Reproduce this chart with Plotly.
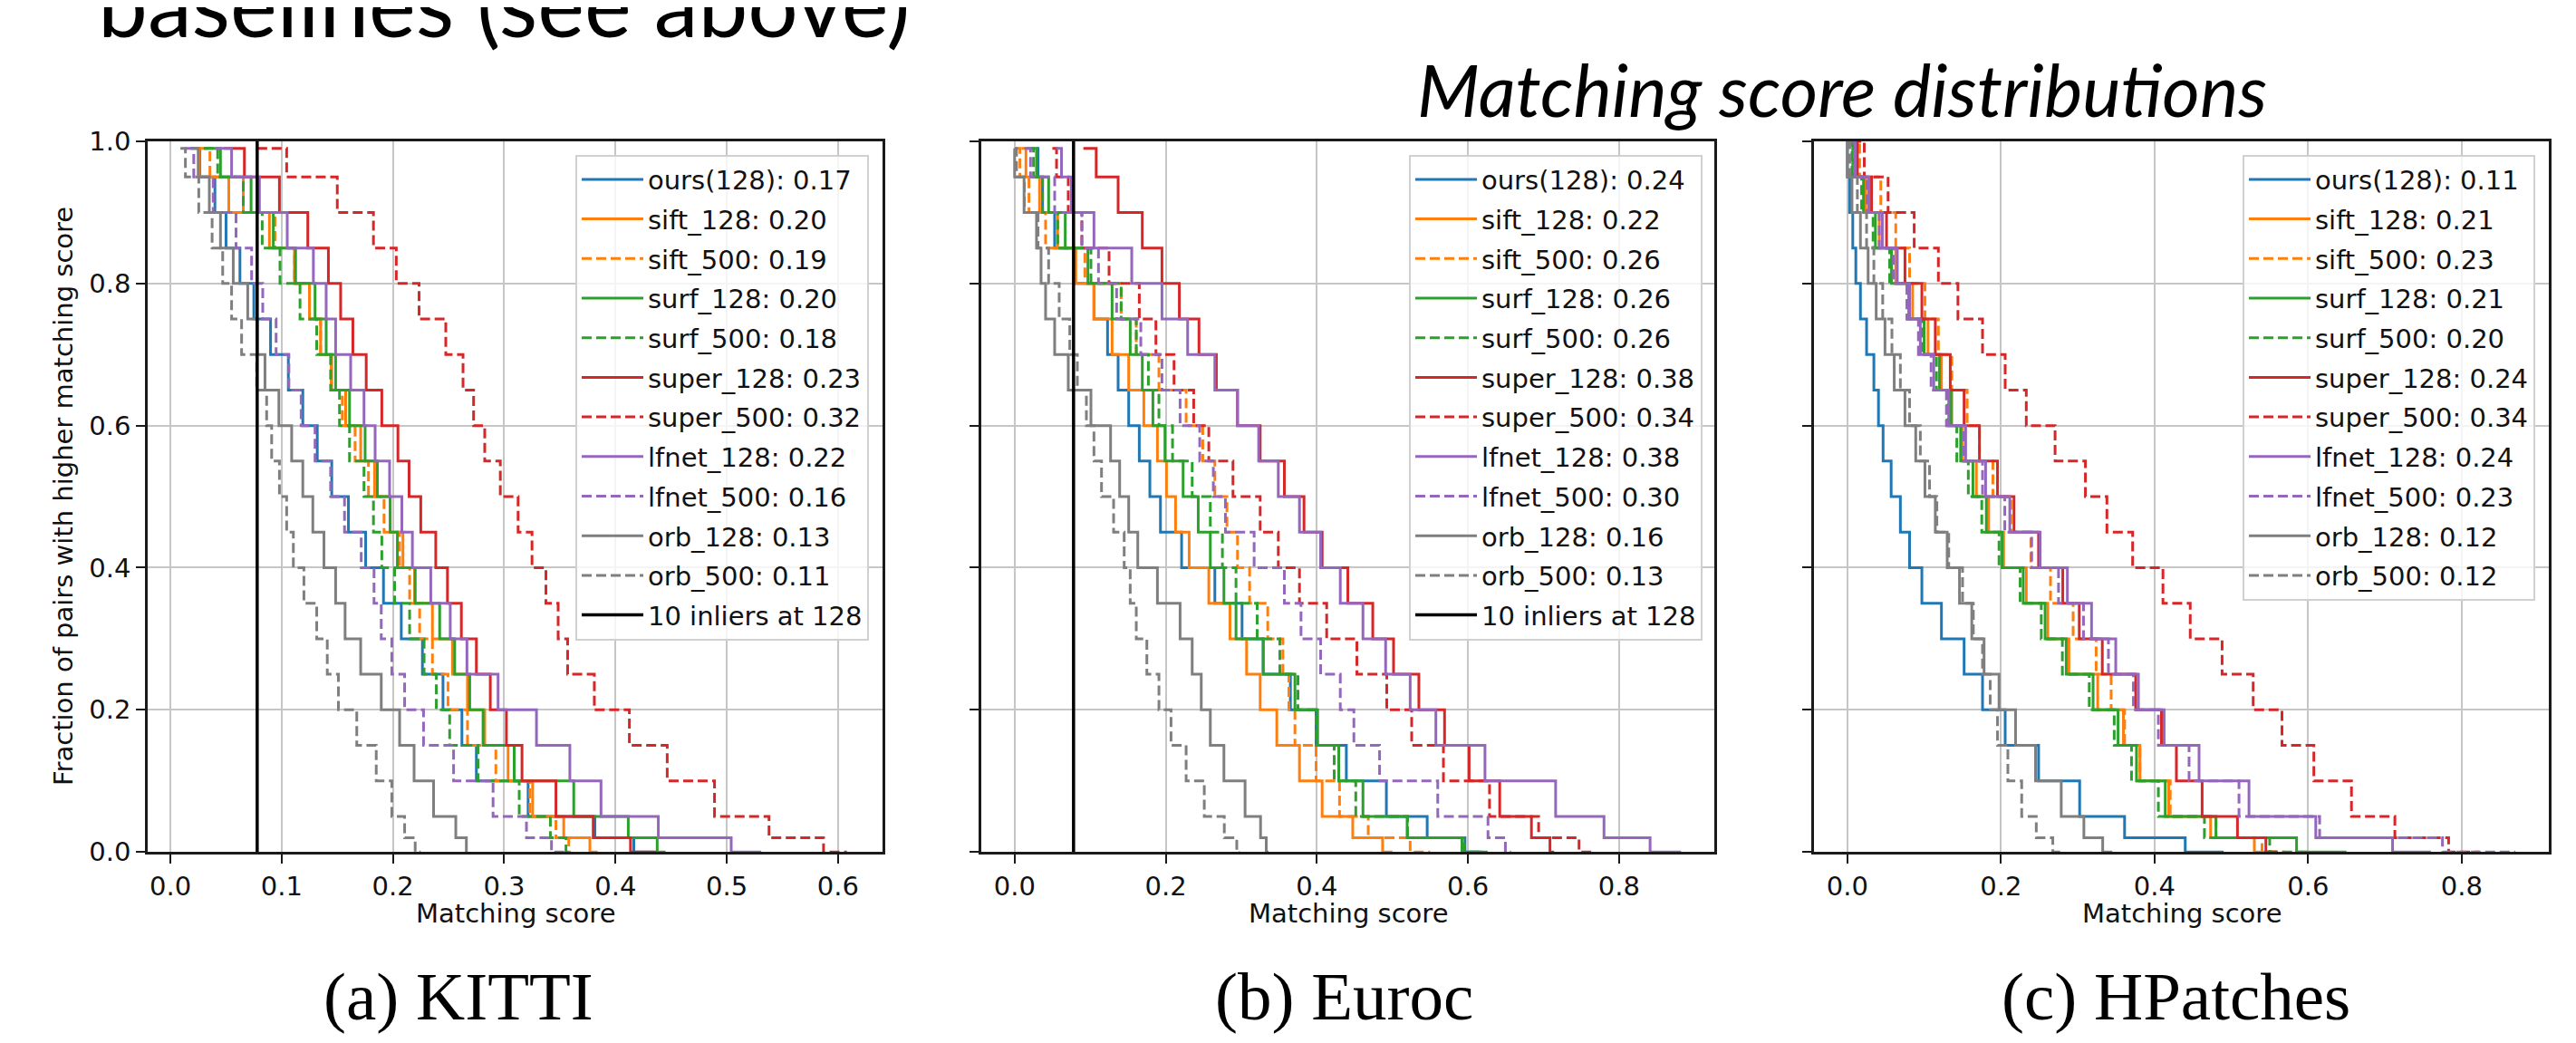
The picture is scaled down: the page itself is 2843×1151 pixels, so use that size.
import plotly.graph_objects as go

W, H = 2843, 1151

# ---------------- data ----------------
# y levels at which each survival curve's x position was read
levels_ab = [0.99, 0.95, 0.90, 0.85, 0.80, 0.75, 0.70, 0.65, 0.60, 0.55, 0.50,
             0.45, 0.40, 0.35, 0.30, 0.25, 0.20, 0.15, 0.10, 0.05, 0.02, 0.0]
levels_c = [1.0, 0.95, 0.90, 0.85, 0.80, 0.75, 0.70, 0.65, 0.60, 0.55, 0.50,
            0.45, 0.40, 0.35, 0.30, 0.25, 0.20, 0.15, 0.10, 0.05, 0.02, 0.0]

method_names = ["ours(128)", "sift_128", "sift_500", "surf_128", "surf_500",
                "super_128", "super_500", "lfnet_128", "lfnet_500", "orb_128", "orb_500"]

kitti_means = [0.17, 0.20, 0.19, 0.20, 0.18, 0.23, 0.32, 0.22, 0.16, 0.13, 0.11]
euroc_means = [0.24, 0.22, 0.26, 0.26, 0.26, 0.38, 0.34, 0.38, 0.30, 0.16, 0.13]
hpatches_means = [0.11, 0.21, 0.23, 0.21, 0.20, 0.24, 0.34, 0.24, 0.23, 0.12, 0.12]

# (a) KITTI
kitti_ours = [0.018, 0.035, 0.045, 0.055, 0.07, 0.08, 0.1, 0.112, 0.126, 0.138, 0.152, 0.168, 0.183, 0.2, 0.215, 0.238, 0.252, 0.272, 0.278, 0.365, 0.398, 0.435]
kitti_sift128 = [0.022, 0.03, 0.075, 0.103, 0.12, 0.13, 0.14, 0.15, 0.165, 0.177, 0.19, 0.205, 0.213, 0.226, 0.245, 0.262, 0.272, 0.293, 0.314, 0.337, 0.37, 0.384]
kitti_sift500 = [0.025, 0.046, 0.085, 0.103, 0.12, 0.13, 0.14, 0.149, 0.16, 0.172, 0.184, 0.2, 0.212, 0.218, 0.23, 0.241, 0.258, 0.276, 0.309, 0.337, 0.356, 0.36]
kitti_surf128 = [0.03, 0.06, 0.085, 0.1, 0.125, 0.135, 0.145, 0.152, 0.17, 0.18, 0.192, 0.203, 0.205, 0.235, 0.249, 0.262, 0.276, 0.286, 0.332, 0.393, 0.43, 0.445]
kitti_surf500 = [0.03, 0.055, 0.076, 0.089, 0.108, 0.125, 0.138, 0.15, 0.154, 0.168, 0.18, 0.185, 0.195, 0.208, 0.222, 0.234, 0.244, 0.258, 0.295, 0.332, 0.351, 0.36]
kitti_super128 = [0.048, 0.085, 0.111, 0.136, 0.148, 0.158, 0.17, 0.182, 0.198, 0.211, 0.218, 0.232, 0.245, 0.253, 0.27, 0.28, 0.295, 0.309, 0.323, 0.37, 0.39, 0.437]
kitti_super500 = [0.078, 0.131, 0.169, 0.196, 0.21, 0.237, 0.258, 0.268, 0.277, 0.288, 0.305, 0.32, 0.33, 0.345, 0.352, 0.362, 0.40, 0.425, 0.468, 0.51, 0.566, 0.608]
kitti_lfnet128 = [0.04, 0.07, 0.09, 0.12, 0.137, 0.143, 0.154, 0.17, 0.178, 0.19, 0.204, 0.212, 0.223, 0.245, 0.258, 0.275, 0.314, 0.344, 0.374, 0.40, 0.477, 0.531]
kitti_lfnet500 = [0.013, 0.029, 0.048, 0.07, 0.076, 0.09, 0.1, 0.113, 0.122, 0.138, 0.15, 0.163, 0.18, 0.186, 0.193, 0.205, 0.216, 0.239, 0.27, 0.31, 0.33, 0.355]
kitti_orb128 = [0.02, 0.03, 0.04, 0.05, 0.063, 0.076, 0.08, 0.09, 0.105, 0.113, 0.125, 0.131, 0.145, 0.152, 0.162, 0.18, 0.199, 0.213, 0.225, 0.248, 0.265, 0.267]
kitti_orb500 = [0.009, 0.018, 0.033, 0.042, 0.052, 0.058, 0.07, 0.085, 0.088, 0.094, 0.102, 0.107, 0.114, 0.126, 0.137, 0.145, 0.157, 0.178, 0.192, 0.206, 0.215, 0.225]

# (b) Euroc
euroc_ours = [0.029, 0.033, 0.041, 0.065, 0.093, 0.117, 0.129, 0.145, 0.157, 0.173, 0.185, 0.201, 0.241, 0.289, 0.313, 0.345, 0.385, 0.413, 0.465, 0.519, 0.573, 0.619]
euroc_sift128 = [0.009, 0.021, 0.045, 0.069, 0.093, 0.117, 0.141, 0.161, 0.181, 0.197, 0.205, 0.221, 0.241, 0.273, 0.297, 0.317, 0.333, 0.361, 0.393, 0.421, 0.474, 0.5]
euroc_sift500 = [0.001, 0.013, 0.025, 0.057, 0.129, 0.153, 0.169, 0.213, 0.241, 0.257, 0.273, 0.289, 0.301, 0.321, 0.349, 0.361, 0.365, 0.377, 0.421, 0.439, 0.497, 0.55]
euroc_surf128 = [0.021, 0.037, 0.053, 0.081, 0.113, 0.145, 0.161, 0.177, 0.189, 0.209, 0.237, 0.249, 0.269, 0.285, 0.301, 0.357, 0.385, 0.417, 0.441, 0.481, 0.558, 0.626]
euroc_surf500 = [0.017, 0.033, 0.041, 0.073, 0.129, 0.153, 0.169, 0.185, 0.197, 0.221, 0.249, 0.269, 0.281, 0.305, 0.337, 0.365, 0.385, 0.413, 0.433, 0.47, 0.57, 0.62]
euroc_super128 = [0.091, 0.125, 0.149, 0.189, 0.201, 0.235, 0.253, 0.281, 0.309, 0.341, 0.373, 0.393, 0.421, 0.461, 0.487, 0.516, 0.554, 0.584, 0.619, 0.665, 0.703, 0.714]
euroc_super500 = [0.05, 0.061, 0.081, 0.097, 0.153, 0.177, 0.197, 0.225, 0.249, 0.265, 0.313, 0.337, 0.361, 0.393, 0.433, 0.473, 0.512, 0.539, 0.596, 0.661, 0.726, 0.768]
euroc_lfnet128 = [0.055, 0.069, 0.081, 0.129, 0.181, 0.209, 0.249, 0.281, 0.309, 0.337, 0.361, 0.393, 0.417, 0.445, 0.477, 0.505, 0.542, 0.573, 0.672, 0.76, 0.80, 0.882]
euroc_lfnet500 = [0.013, 0.029, 0.077, 0.101, 0.121, 0.149, 0.185, 0.205, 0.233, 0.257, 0.269, 0.289, 0.345, 0.369, 0.389, 0.421, 0.441, 0.457, 0.509, 0.611, 0.642, 0.657]
euroc_orb128 = [0.0, 0.0, 0.025, 0.033, 0.037, 0.045, 0.061, 0.081, 0.121, 0.133, 0.145, 0.157, 0.169, 0.209, 0.229, 0.241, 0.253, 0.265, 0.289, 0.321, 0.33, 0.336]
euroc_orb500 = [0.0, 0.005, 0.021, 0.041, 0.049, 0.069, 0.077, 0.089, 0.101, 0.109, 0.121, 0.141, 0.149, 0.157, 0.165, 0.185, 0.197, 0.217, 0.237, 0.265, 0.29, 0.298]

# (c) HPatches
hpatches_ours = [0.0, 0.0, 0.006, 0.008, 0.014, 0.02, 0.03, 0.039, 0.042, 0.051, 0.063, 0.075, 0.087, 0.107, 0.138, 0.166, 0.186, 0.225, 0.273, 0.332, 0.39, 0.49]
hpatches_sift128 = [0.0, 0.016, 0.032, 0.051, 0.075, 0.095, 0.115, 0.13, 0.142, 0.158, 0.178, 0.19, 0.217, 0.249, 0.273, 0.304, 0.348, 0.371, 0.391, 0.446, 0.5, 0.56]
hpatches_sift500 = [0.0, 0.032, 0.055, 0.071, 0.091, 0.111, 0.126, 0.146, 0.166, 0.178, 0.201, 0.225, 0.253, 0.276, 0.312, 0.336, 0.351, 0.371, 0.391, 0.45, 0.51, 0.57]
hpatches_surf128 = [0.0, 0.014, 0.028, 0.045, 0.07, 0.09, 0.11, 0.13, 0.14, 0.155, 0.172, 0.19, 0.213, 0.245, 0.27, 0.3, 0.34, 0.365, 0.388, 0.44, 0.52, 0.65]
hpatches_surf500 = [0.0, 0.012, 0.025, 0.042, 0.068, 0.088, 0.107, 0.125, 0.135, 0.15, 0.165, 0.185, 0.21, 0.24, 0.265, 0.295, 0.335, 0.36, 0.38, 0.43, 0.5, 0.6]
hpatches_super128 = [0.002, 0.024, 0.039, 0.063, 0.087, 0.107, 0.122, 0.146, 0.158, 0.186, 0.205, 0.229, 0.269, 0.292, 0.312, 0.352, 0.399, 0.419, 0.438, 0.486, 0.53, 0.56]
hpatches_super500 = [0.005, 0.039, 0.067, 0.107, 0.13, 0.158, 0.194, 0.217, 0.249, 0.292, 0.328, 0.348, 0.395, 0.427, 0.466, 0.51, 0.547, 0.585, 0.63, 0.683, 0.743, 0.823]
hpatches_lfnet128 = [0.0, 0.02, 0.036, 0.055, 0.075, 0.087, 0.103, 0.122, 0.142, 0.166, 0.194, 0.229, 0.273, 0.3, 0.336, 0.363, 0.395, 0.43, 0.486, 0.56, 0.66, 0.76]
hpatches_lfnet500 = [0.0, 0.018, 0.033, 0.05, 0.07, 0.085, 0.1, 0.118, 0.14, 0.162, 0.19, 0.22, 0.26, 0.29, 0.325, 0.355, 0.39, 0.42, 0.47, 0.55, 0.68, 0.87]
hpatches_orb128 = [0.0, 0.0, 0.012, 0.022, 0.032, 0.043, 0.055, 0.067, 0.083, 0.095, 0.107, 0.122, 0.138, 0.154, 0.17, 0.186, 0.209, 0.229, 0.261, 0.296, 0.32, 0.345]
hpatches_orb500 = [0.0, 0.006, 0.02, 0.03, 0.039, 0.053, 0.063, 0.075, 0.087, 0.103, 0.111, 0.122, 0.142, 0.158, 0.17, 0.182, 0.19, 0.201, 0.217, 0.237, 0.255, 0.28]

inlier_threshold = 0.078          # "10 inliers at 128" vertical line (a, b)
inlier_label = "10 inliers at 128"

x_ticks_a = [0.0, 0.1, 0.2, 0.3, 0.4, 0.5, 0.6]
x_ticks_bc = [0.0, 0.2, 0.4, 0.6, 0.8]
y_ticks = [0.0, 0.2, 0.4, 0.6, 0.8, 1.0]

captions = ["(a) KITTI", "(b) Euroc", "(c) HPatches"]

# ---------------- styles ----------------
line_colors = ["#1f77b4", "#ff7f0e", "#ff7f0e", "#2ca02c", "#2ca02c",
               "#d62728", "#d62728", "#9467bd", "#9467bd", "#7f7f7f", "#7f7f7f"]
DASH = "11px,5px"
line_dashes = ["solid", "solid", DASH, "solid", DASH,
               "solid", DASH, "solid", DASH, "solid", DASH]
LW = 3.0
FONT = "DejaVu Sans"
FS = 29

def px_x(p):
    return p / W

def px_y(p):
    return 1 - p / H

panels = [
    dict(series=[kitti_ours, kitti_sift128, kitti_sift500, kitti_surf128, kitti_surf500,
                 kitti_super128, kitti_super500, kitti_lfnet128, kitti_lfnet500,
                 kitti_orb128, kitti_orb500],
         means=kitti_means, levels=levels_ab, inliers=True,
         dom=(155, 966), xr=[-0.0204, 0.640], ticks=x_ticks_a, leg_right=951),
    dict(series=[euroc_ours, euroc_sift128, euroc_sift500, euroc_surf128, euroc_surf500,
                 euroc_super128, euroc_super500, euroc_lfnet128, euroc_lfnet500,
                 euroc_orb128, euroc_orb500],
         means=euroc_means, levels=levels_ab, inliers=True,
         dom=(1075, 1884), xr=[-0.0441, 0.926], ticks=x_ticks_bc, leg_right=1871),
    dict(series=[hpatches_ours, hpatches_sift128, hpatches_sift500, hpatches_surf128,
                 hpatches_surf500, hpatches_super128, hpatches_super500, hpatches_lfnet128,
                 hpatches_lfnet500, hpatches_orb128, hpatches_orb500],
         means=hpatches_means, levels=levels_c, inliers=False,
         dom=(1994, 2805), xr=[-0.0435, 0.9135], ticks=x_ticks_bc, leg_right=2790),
]

AX_TOP, AX_BOT = 135, 943

fig = go.Figure()
layout = dict(
    width=W, height=H, margin=dict(l=0, r=0, t=0, b=0),
    paper_bgcolor="white", plot_bgcolor="white", showlegend=True,
    font=dict(family=FONT, size=FS, color="black"),
)
annotations = []

for i, p in enumerate(panels):
    sfx = "" if i == 0 else str(i + 1)
    xa, ya = "x" + sfx, "y" + sfx
    leg = "legend" + sfx
    for k, xs in enumerate(p["series"]):
        fig.add_trace(go.Scatter(
            x=xs, y=p["levels"], mode="lines", line_shape="hvh",
            line=dict(color=line_colors[k], width=LW, dash=line_dashes[k]),
            name=f"{method_names[k]}: {p['means'][k]:.2f}",
            legendgroup=f"p{i}_{k}",
            xaxis=xa, yaxis=ya, legend=leg, hoverinfo="skip"))
    if p["inliers"]:
        fig.add_trace(go.Scatter(
            x=[inlier_threshold, inlier_threshold], y=[0, 1], mode="lines",
            line=dict(color="black", width=3.5), name=inlier_label,
            legendgroup=f"p{i}_inl",
            xaxis=xa, yaxis=ya, legend=leg, hoverinfo="skip"))

    layout["xaxis" + sfx] = dict(
        domain=[px_x(p["dom"][0]), px_x(p["dom"][1])], anchor=ya, range=p["xr"],
        tickvals=p["ticks"], ticktext=[f"{t:.1f}" for t in p["ticks"]],
        showgrid=True, gridcolor="#c6c6c6", gridwidth=2, zeroline=False,
        showline=True, linecolor="#1a1a1a", linewidth=2.5, mirror=True,
        ticks="outside", ticklen=10, tickwidth=2, tickcolor="#1a1a1a",
        tickfont=dict(family=FONT, size=FS, color="#111"))
    layout["yaxis" + sfx] = dict(
        domain=[px_y(AX_BOT), px_y(AX_TOP)], anchor=xa, range=[0, 1],
        tickvals=y_ticks, ticktext=[f"{t:.1f}" for t in y_ticks],
        showticklabels=(i == 0),
        showgrid=True, gridcolor="#c6c6c6", gridwidth=2, zeroline=False,
        showline=True, linecolor="#1a1a1a", linewidth=2.5, mirror=True,
        ticks="outside", ticklen=10, tickwidth=2, tickcolor="#1a1a1a",
        tickfont=dict(family=FONT, size=FS, color="#111"))
    layout[leg] = dict(
        x=px_x(p["leg_right"]), y=px_y(150), xanchor="right", yanchor="top",
        xref="paper", yref="paper",
        bgcolor="rgba(255,255,255,0.8)", bordercolor="#d0d0d0", borderwidth=2,
        font=dict(family=FONT, size=FS, color="#111"), itemwidth=68,
        tracegroupgap=3)

    cx = (p["dom"][0] + p["dom"][1]) / 2
    annotations.append(dict(
        text="Matching score", x=px_x(cx), y=px_y(1013), xref="paper", yref="paper",
        xanchor="center", yanchor="middle", showarrow=False,
        font=dict(family=FONT, size=FS, color="#111")))

caption_centers = [498, 1475, 2393]
for cap, cx in zip(captions, caption_centers):
    annotations.append(dict(
        text=cap, x=px_x(cx), y=0.0, xref="paper", yref="paper",
        xanchor="center", yanchor="bottom", showarrow=False, borderpad=0,
        font=dict(family="Liberation Serif", size=75, color="black")))

annotations.append(dict(
    text="Fraction of pairs with higher matching score", textangle=-90,
    x=px_x(62), y=px_y((AX_TOP + AX_BOT) / 2), xref="paper", yref="paper",
    xanchor="center", yanchor="middle", showarrow=False,
    font=dict(family=FONT, size=FS, color="#111")))

annotations.append(dict(
    text="<i>Matching score distributions</i>", x=px_x(2025), y=px_y(24),
    xref="paper", yref="paper", xanchor="center", yanchor="top", showarrow=False,
    font=dict(family="Lato", size=80, color="black")))

annotations.append(dict(
    text="baselines (see above)", x=px_x(98), y=px_y(-86),
    xref="paper", yref="paper", xanchor="left", yanchor="top", showarrow=False,
    font=dict(family="Lato", size=98, color="black")))

layout["annotations"] = annotations
fig.update_layout(**layout)
fig.write_html("out.html")
